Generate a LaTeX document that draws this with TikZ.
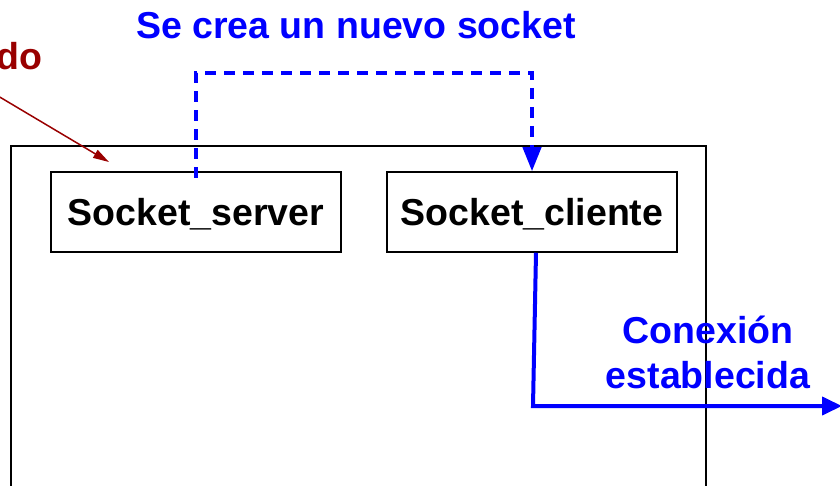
\documentclass[tikz,border=0pt]{standalone}
\usepackage{fontspec}
\setmainfont{Liberation Sans}
\usetikzlibrary{arrows.meta}
\definecolor{dred}{HTML}{990000}
\definecolor{pblue}{HTML}{0000FF}
\tikzset{
  box/.style={draw=black, line width=1.5pt, fill=white, minimum width=290pt, minimum height=80pt, inner sep=0pt, font=\bfseries\fontsize{37.5}{42}\selectfont},
  lbl/.style={font=\bfseries\fontsize{37.5}{42}\selectfont, inner sep=0pt},
  dashflow/.style={draw=pblue, line width=4pt, dash pattern=on 11pt off 8pt, -{Triangle[length=24pt,width=18pt]}},
  solidflow/.style={draw=pblue, line width=4pt, -{Triangle[length=20pt,width=18pt]}},
  redarrow/.style={draw=dred, line width=1.5pt, -{Triangle[length=16pt,width=9pt]}}
}
\begin{document}
\begin{tikzpicture}[x=1pt,y=-1pt]
\useasboundingbox (0,0) rectangle (840,486);
\begin{scope}
\clip (0,0) rectangle (840,486);
% outer container
\draw[line width=1.5pt] (11,500) -- (11,146) -- (706,146) -- (706,500);
% boxes
\node[box] (srv) at (196,212) {};
\node[box] (cli) at (532,212) {};
\node[lbl] (srvt) at (196,214) {Socket\_server};
\node[lbl] (clit) at (532,214) {Socket\_cliente};
% labels
\node[lbl, text=pblue] (new) at (356,25) {Se crea un nuevo socket};
\node[lbl, text=dred, anchor=east] (do) at (43,56) {do};
\node[lbl, text=pblue] (con1) at (708,330) {Conexión};
\node[lbl, text=pblue] (con2) at (708,375) {establecida};
% dashed new-socket arrow
\coordinate (ds) at (196,178);
\draw[dashflow] (ds) -- (196,73) -- (532,73) -- (cli.north);
% established connection arrow
\coordinate (ce) at (842,406);
\draw[solidflow] ([xshift=4pt]cli.south) -- (533,406) -- (ce);
% red arrow
\coordinate (rs) at (-2,96);
\coordinate (re) at (109,162);
\draw[redarrow] (rs) -- (re);
\end{scope}
\end{tikzpicture}
\end{document}
